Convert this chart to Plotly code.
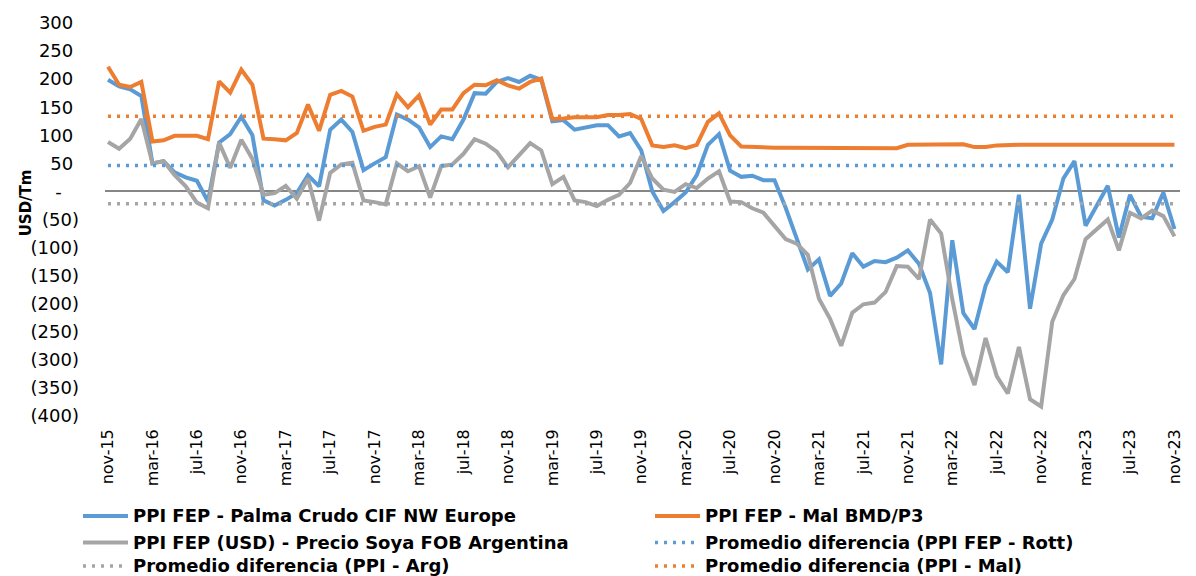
import pandas as pd
import plotly.graph_objects as go

# months nov-15 .. nov-23 (Spanish abbreviations as in the source chart)
meses_es = ["ene", "feb", "mar", "abr", "may", "jun", "jul", "ago", "sep", "oct", "nov", "dic"]
fechas = pd.date_range("2015-11-01", "2023-11-01", freq="MS")
meses = [f"{meses_es[d.month - 1]}-{d.strftime('%y')}" for d in fechas]

# PPI FEP - Palma Crudo CIF NW Europe (USD/Tm)
palma_rott = [199, 187, 182, 170, 50, 54, 34, 25, 19, -18,
              87, 102, 133, 100, -16, -25, -15, -3, 29, 9,
              110, 128, 106, 38, 50, 61, 137, 128, 114, 79,
              98, 93, 128, 175, 174, 195, 202, 195, 206, 199,
              125, 127, 110, 114, 118, 118, 98, 104, 73, 0,
              -35, -19, -2, 29, 83, 102, 37, 26, 28, 20,
              20, -29, -82, -139, -121, -186, -164, -110, -134, -124,
              -126, -118, -105, -129, -181, -308, -87, -217, -245, -168,
              -125, -144, -6, -209, -93, -50, 23, 54, -61, -26,
              10, -82, -6, -45, -48, -2, -67]

# PPI FEP - Mal BMD/P3
mal_bmd = [222, 190, 186, 195, 89, 91, 99, 99, 99, 93,
           196, 176, 217, 190, 94, 93, 91, 104, 155, 108,
           172, 179, 169, 108, 115, 119, 173, 150, 171, 119,
           146, 146, 175, 190, 189, 198, 189, 183, 195, 201,
           129, 130, 132, 132, 132, 136, 136, 138, 129, 82,
           79, 82, 77, 83, 124, 139, 100, 80, 79, 79,
           78, 78, 78, 78, 78, 77, 77, 77, 77, 77,
           77, 77, 83, 83, 83, 83, 83, 84, 79, 79,
           82, 83, 83, 83, 83, 84, 83, 83, 83, 83,
           83, 83, 83, 83, 83, 83, 83]

# PPI FEP (USD) - Precio Soya FOB Argentina
soya_arg = [88, 76, 94, 129, 50, 54, 29, 9, -20, -30,
            87, 42, 92, 58, -6, -3, 10, -13, 23, -52,
            33, 48, 51, -16, -19, -23, 50, 36, 45, -11,
            45, 48, 67, 93, 85, 71, 43, 64, 86, 73,
            13, 26, -16, -19, -26, -15, -6, 15, 63, 23,
            3, -1, 13, 6, 23, 36, -18, -19, -30, -38,
            -61, -85, -93, -113, -191, -227, -275, -216, -201, -198,
            -179, -133, -134, -156, -50, -75, -192, -291, -345, -261,
            -329, -360, -277, -370, -383, -232, -185, -156, -85, -67,
            -50, -105, -38, -48, -34, -44, -80]

# averages of each difference
prom_rott = 46
prom_arg = -22
prom_mal = 134

tick_meses = meses[::4]
y_ticks = list(range(-400, 301, 50))

BLUE = "#5B9BD5"
ORANGE = "#ED7D31"
GRAY = "#A5A5A5"
FONT = "DejaVu Sans"
DOTS = "3px,6px"

# plot area in pixels (used to place the hand-made legend)
PL, PR, PT, PB = 105, 1180, 15, 416


def acct(v):
    # Excel accounting style: (50), -, 100
    if v < 0:
        return f"({-v})"
    if v == 0:
        return "-\u00a0\u00a0\u00a0"
    return f"{v}\u00a0"


def px_x(x):
    return (x - PL) / (PR - PL)


def px_y(y):
    return (PB - y) / (PB - PT)


fig = go.Figure()

series = [
    ("PPI FEP - Palma Crudo CIF NW Europe", palma_rott, BLUE),
    ("PPI FEP - Mal BMD/P3", mal_bmd, ORANGE),
    ("PPI FEP (USD) - Precio Soya FOB Argentina", soya_arg, GRAY),
]
for name, vals, color in series:
    fig.add_trace(go.Scatter(x=meses, y=vals, mode="lines", name=name,
                             line=dict(color=color, width=4)))

# average lines span the whole period
ends = [meses[0], meses[-1]]
promedios = [
    ("Promedio diferencia (PPI FEP - Rott)", prom_rott, BLUE),
    ("Promedio diferencia (PPI - Arg)", prom_arg, GRAY),
    ("Promedio diferencia (PPI - Mal)", prom_mal, ORANGE),
]
for name, val, color in promedios:
    fig.add_trace(go.Scatter(x=ends, y=[val, val], mode="lines", name=name,
                             line=dict(color=color, width=3.5, dash=DOTS)))

# legend laid out as in the source: two columns, three rows
legend_items = [
    ("PPI FEP - Palma Crudo CIF NW Europe", BLUE, "solid", 0, 0),
    ("PPI FEP - Mal BMD/P3", ORANGE, "solid", 1, 0),
    ("PPI FEP (USD) - Precio Soya FOB Argentina", GRAY, "solid", 0, 1),
    ("Promedio diferencia (PPI FEP - Rott)", BLUE, DOTS, 1, 1),
    ("Promedio diferencia (PPI - Arg)", GRAY, DOTS, 0, 2),
    ("Promedio diferencia (PPI - Mal)", ORANGE, DOTS, 1, 2),
]
col_x = [83, 655]
row_y = [518, 545, 569]
shapes = []
annotations = []
for text, color, dash, col, row in legend_items:
    x0 = col_x[col]
    y = row_y[row]
    shapes.append(dict(type="line", xref="paper", yref="paper",
                       x0=px_x(x0), x1=px_x(x0 + 45), y0=px_y(y), y1=px_y(y),
                       line=dict(color=color, width=4 if dash == "solid" else 3.5, dash=dash)))
    annotations.append(dict(text=f"<b>{text}</b>", xref="paper", yref="paper",
                            x=px_x(x0 + 48), y=px_y(y), xanchor="left", yanchor="middle",
                            showarrow=False, font=dict(family=FONT, size=18, color="#000000")))

annotations.append(dict(text="<b>USD/Tm</b>", xref="paper", yref="paper",
                        x=px_x(15), y=px_y(199), textangle=-90,
                        showarrow=False, font=dict(family=FONT, size=15, color="#000000")))

fig.update_layout(
    width=1196,
    height=576,
    margin=dict(l=PL, r=1196 - PR, t=PT, b=576 - PB),
    paper_bgcolor="white",
    plot_bgcolor="white",
    showlegend=False,
    shapes=shapes,
    annotations=annotations,
)

fig.update_xaxes(
    type="category",
    range=[-0.27, 96.5],
    tickmode="array",
    tickvals=tick_meses,
    ticktext=tick_meses,
    tickangle=-90,
    tickfont=dict(family=FONT, size=16, color="#000000"),
    ticklabelstandoff=9,
    showgrid=False,
    showline=False,
    ticks="",
)

fig.update_yaxes(
    range=[-400, 300],
    tickmode="array",
    tickvals=y_ticks,
    ticktext=[acct(v) for v in y_ticks],
    tickfont=dict(family=FONT, size=18, color="#000000"),
    ticklabelstandoff=25,
    showgrid=False,
    showline=False,
    ticks="",
    zeroline=True,
    zerolinecolor="#868686",
    zerolinewidth=2,
)

fig.write_html("out.html", config={"displayModeBar": False},
               post_script="document.body.style.margin='0';")
